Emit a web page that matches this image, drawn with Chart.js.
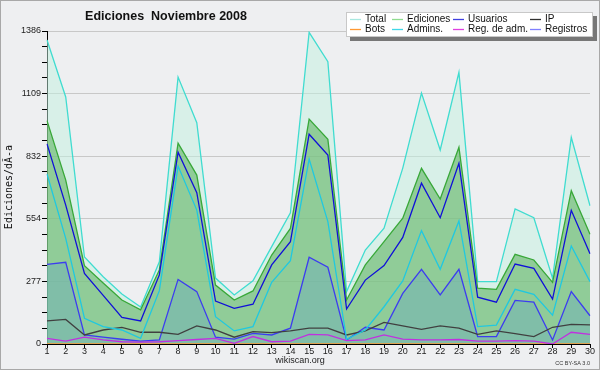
<!DOCTYPE html>
<html lang="es">
<head>
<meta charset="UTF-8">
<title>Ediciones Noviembre 2008</title>
<script src="https://cdn.jsdelivr.net/npm/chart.js"></script>
<style>
  body { margin: 0; padding: 0; background: #eeeff1; }
  #wrap { width: 600px; height: 370px; }
</style>
</head>
<body>
<div id="wrap"><canvas id="chart" width="600" height="370"></canvas></div>
<script>
// days of the month
const days = ['1','2','3','4','5','6','7','8','9','10','11','12','13','14','15',
              '16','17','18','19','20','21','22','23','24','25','26','27','28','29','30'];

// series
const total      = [1346,1094,385,298,221,164,364,1182,980,292,217,280,431,581,1380,1250,232,416,513,779,1111,859,1203,276,276,598,559,291,915,612];
const ediciones  = [989,726,347,270,195,151,328,889,748,261,195,235,394,512,996,906,195,350,453,557,778,642,871,247,242,397,372,273,679,486];
const usuarios   = [886,615,313,215,118,102,306,849,670,190,158,176,350,453,929,837,155,283,347,472,712,559,800,207,185,354,335,199,592,400];
const ip         = [102,109,40,62,74,52,52,43,80,62,30,55,50,58,70,70,40,58,96,80,65,80,70,43,58,46,33,74,87,85];
const bots       = [0,0,0,0,0,0,0,0,0,0,0,0,0,0,0,0,0,0,0,0,0,0,0,0,0,0,0,0,0,0];
const admins     = [753,468,114,77,62,25,236,788,593,121,58,77,273,369,819,542,21,62,165,279,502,331,545,77,84,242,220,128,434,276];
const regAdm     = [25,13,30,18,10,8,10,15,20,25,3,33,10,13,43,40,15,18,40,22,18,18,20,13,13,15,13,0,52,43];
const registros  = [353,362,40,30,21,13,18,286,232,30,22,47,40,70,384,340,18,74,62,224,331,217,331,33,33,193,185,18,232,125];

// y axis
const yMax = 1386;
const yMajorTicks = [0, 277, 554, 832, 1109, 1386];

const seriesLabels = ['Total', 'Ediciones', 'Usuarios', 'IP', 'Bots', 'Admins.', 'Reg. de adm.', 'Registros'];
const seriesData = [total, ediciones, usuarios, ip, bots, admins, regAdm, registros];
const lineColors = ['#40dcd0', '#38a838', '#1010d8', '#404040', '#ff9933', '#20c8e0', '#c030e0', '#3c3cf0'];
const legendColors = ['#a8e8e0', '#90dc90', '#4040e0', '#303030', '#ff9933', '#40d8e8', '#e040e0', '#8080ff'];
const fills = [
  'rgba(194,241,223,0.5)',   // Total
  'rgba(96,180,99,0.6)',     // Ediciones
  false, false, false, false, false,
  'rgba(112,176,184,0.5)'    // Registros
];
// lower order = drawn on top
const drawOrder = [10, 9, 1, 3, 5, 2, 4, 8];

// minor ticks: 3 between each pair of majors
const yTicks = [];
for (let i = 0; i < yMajorTicks.length; i++) {
  yTicks.push(yMajorTicks[i]);
  if (i < yMajorTicks.length - 1) {
    const a = yMajorTicks[i], b = yMajorTicks[i + 1];
    for (let k = 1; k < 4; k++) yTicks.push(a + (b - a) * k / 4);
  }
}

const datasets = seriesLabels.map((label, i) => ({
  label: label,
  data: seriesData[i],
  borderColor: lineColors[i],
  backgroundColor: fills[i] || 'transparent',
  fill: fills[i] ? 'origin' : false,
  borderWidth: 1.3,
  pointRadius: 0,
  tension: 0,
  order: drawOrder[i]
}));

// background, title, axis title, legend, footer
const decorations = {
  id: 'decorations',
  beforeDraw(chart) {
    const ctx = chart.ctx;
    ctx.save();
    ctx.fillStyle = '#eeeff1';
    ctx.fillRect(0, 0, chart.width, chart.height);
    ctx.restore();
  },
  afterDraw(chart) {
    const ctx = chart.ctx;
    ctx.save();

    // title
    ctx.fillStyle = '#111';
    ctx.font = 'bold 12.5px "Liberation Sans", Arial, sans-serif';
    ctx.textAlign = 'center';
    ctx.textBaseline = 'middle';
    ctx.fillText('Ediciones  Noviembre 2008', 166, 17);

    // y axis title
    ctx.save();
    ctx.translate(9, 187);
    ctx.rotate(-Math.PI / 2);
    ctx.font = '10px "DejaVu Sans Mono", monospace';
    ctx.fillText('Ediciones/dÃ-a', 0, 0);
    ctx.restore();

    // footer
    ctx.font = '9px "Liberation Sans", Arial, sans-serif';
    ctx.fillStyle = '#222';
    ctx.fillText('wikiscan.org', 300, 361);
    ctx.font = '5.5px "Liberation Sans", Arial, sans-serif';
    ctx.textAlign = 'right';
    ctx.fillStyle = '#333';
    ctx.fillText('CC BY-SA 3.0', 590, 363);

    // legend box with shadow
    const lx = 346, ly = 12, lw = 247, lh = 25;
    ctx.fillStyle = '#777';
    ctx.fillRect(lx + 4, ly + 4, lw, lh);
    ctx.fillStyle = '#fff';
    ctx.fillRect(lx, ly, lw, lh);
    ctx.strokeStyle = '#c8c8c8';
    ctx.lineWidth = 1;
    ctx.strokeRect(lx + 0.5, ly + 0.5, lw - 1, lh - 1);

    const colX = [350, 392, 453, 530];
    const rowY = [19, 29];
    ctx.font = '10px "Liberation Sans", Arial, sans-serif';
    ctx.textAlign = 'left';
    ctx.textBaseline = 'middle';
    seriesLabels.forEach((label, i) => {
      const x = colX[i % 4], y = rowY[Math.floor(i / 4)];
      ctx.strokeStyle = legendColors[i];
      ctx.lineWidth = 1.3;
      ctx.beginPath();
      ctx.moveTo(x, y + 0.5);
      ctx.lineTo(x + 11, y + 0.5);
      ctx.stroke();
      ctx.fillStyle = '#111';
      ctx.fillText(label, x + 15, y);
    });

    // outer border
    ctx.strokeStyle = '#a8a8a8';
    ctx.lineWidth = 1;
    ctx.strokeRect(0.5, 0.5, chart.width - 1, chart.height - 1);
    ctx.restore();
  }
};

new Chart(document.getElementById('chart'), {
  type: 'line',
  data: { labels: days, datasets: datasets },
  plugins: [decorations],
  options: {
    responsive: false,
    animation: false,
    events: [],
    layout: { padding: { left: 0, top: 31, right: 10, bottom: 0 } },
    plugins: {
      legend: { display: false },
      title: { display: false },
      tooltip: { enabled: false }
    },
    scales: {
      x: {
        offset: false,
        afterFit(scale) { scale.height = 26; },
        grid: { drawOnChartArea: false, drawTicks: true, tickLength: 4, tickColor: '#000' },
        border: { display: true, color: '#000', width: 1 },
        ticks: {
          autoSkip: false, maxRotation: 0, padding: -2,
          color: '#222',
          font: { family: '"Liberation Sans", Arial, sans-serif', size: 9 }
        }
      },
      y: {
        min: 0,
        max: yMax,
        afterFit(scale) { scale.width = 47; },
        afterBuildTicks(scale) { scale.ticks = yTicks.map(v => ({ value: v })); },
        grid: {
          color: ctx => yMajorTicks.includes(ctx.tick.value) ? '#c8c8c8' : 'transparent',
          lineWidth: 1,
          tickLength: 5,
          tickColor: '#000',
          drawTicks: true
        },
        border: { display: true, color: '#000', width: 1 },
        ticks: {
          padding: 1,
          color: '#222',
          font: { family: '"Liberation Sans", Arial, sans-serif', size: 9 },
          callback: v => yMajorTicks.includes(v) ? String(v) : ''
        }
      }
    }
  }
});
</script>
</body>
</html>
